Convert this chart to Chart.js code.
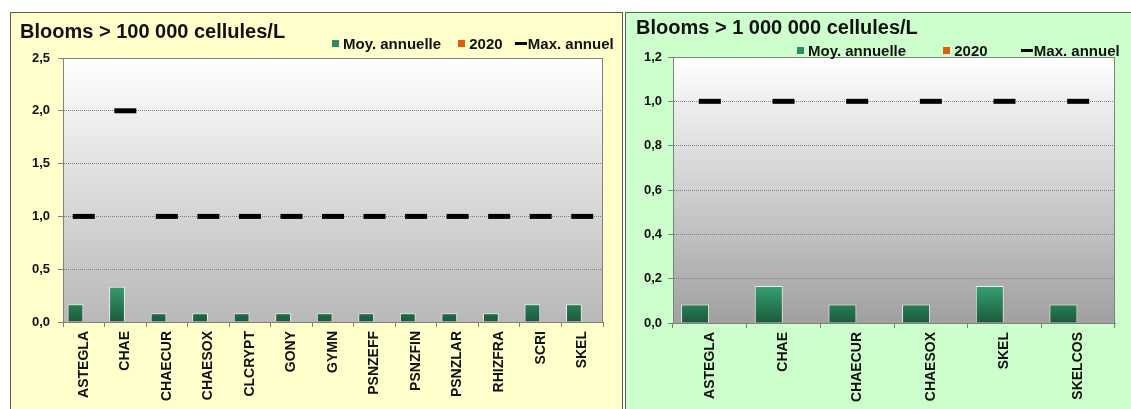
<!DOCTYPE html>
<html>
<head>
<meta charset="utf-8">
<script src="https://cdn.jsdelivr.net/npm/chart.js@4"></script>
<style>
  body { margin: 0; background: #fff; width: 1131px; height: 409px; overflow: hidden; position: relative; font-family: "Liberation Sans", Arial, sans-serif; }
  .panel { position: absolute; top: 12px; height: 410px; box-sizing: border-box; }
  #left { left: 10px; width: 613px; background: #ffffcc; border: 1px solid #5e5e48; }
  #right { left: 625px; width: 510px; background: #ccffcc; border: 1px solid #4e6e4e; }
  .panel canvas { position: absolute; left: 0; top: 0; }
  .title { position: absolute; font-weight: bold; font-size: 20px; line-height: 20px; color: #111; white-space: nowrap; }
  .legend { position: absolute; font-weight: bold; font-size: 15px; line-height: 15px; color: #111; white-space: nowrap; }
  .legend span { display: inline-block; vertical-align: middle; }
  .sq { width: 7px; height: 7px; margin-right: 4px; }
  .dash { width: 12px; height: 3px; background: #000; margin-right: 1px; }
</style>
</head>
<body>
<div class="panel" id="left">
  <canvas id="chart1" width="611" height="396"></canvas>
  <div class="title" style="left:9px; top:8px;">Blooms &gt; 100 000 cellules/L</div>
  <div class="legend" style="left:321px; top:21px;">
    <span class="sq" style="background:#2e8b63"></span><span>Moy. annuelle</span>
    <span class="sq" style="background:#e05a10; margin-left:13px"></span><span>2020</span>
    <span class="dash" style="margin-left:8px"></span><span>Max. annuel</span>
  </div>
</div>
<div class="panel" id="right">
  <canvas id="chart2" width="505" height="396"></canvas>
  <div class="title" style="left:10px; top:4px;">Blooms &gt; 1 000 000 cellules/L</div>
  <div class="legend" style="left:171px; top:28px;">
    <span class="sq" style="background:#2e8b63"></span><span>Moy. annuelle</span>
    <span class="sq" style="background:#e05a10; margin-left:33px"></span><span>2020</span>
    <span class="dash" style="margin-left:29px"></span><span>Max. annuel</span>
  </div>
</div>
<script>
// ### data ###
const categories100k = ["ASTEGLA", "CHAE", "CHAECUR", "CHAESOX", "CLCRYPT", "GONY", "GYMN", "PSNZEFF", "PSNZFIN", "PSNZLAR", "RHIZFRA", "SCRI", "SKEL"];
const moy100k = [0.167, 0.333, 0.083, 0.083, 0.083, 0.083, 0.083, 0.083, 0.083, 0.083, 0.083, 0.167, 0.167];
const y2020_100k = [null, null, null, null, null, null, null, null, null, null, null, null, null];
const max100k = [1, 2, 1, 1, 1, 1, 1, 1, 1, 1, 1, 1, 1];
const ticks100k = [0, 0.5, 1.0, 1.5, 2.0, 2.5];

const categories1M = ["ASTEGLA", "CHAE", "CHAECUR", "CHAESOX", "SKEL", "SKELCOS"];
const moy1M = [0.083, 0.167, 0.083, 0.083, 0.167, 0.083];
const y2020_1M = [null, null, null, null, null, null];
const max1M = [1, 1, 1, 1, 1, 1];
const ticks1M = [0, 0.2, 0.4, 0.6, 0.8, 1.0, 1.2];

// ### colors ###
const GREEN_TOP = "#35a373";
const GREEN_BOTTOM = "#1b5a3c";
const ORANGE = "#e05a10";
const GRID = "#808080";
const FONT = "'Liberation Sans', Arial, sans-serif";

// plot area background + frame
const plotBackground = {
  id: "plotBackground",
  beforeDraw(chart, args, opts) {
    const { ctx, chartArea } = chart;
    const g = ctx.createLinearGradient(0, chartArea.top, 0, chartArea.bottom);
    g.addColorStop(0, "#ffffff");
    g.addColorStop(1, opts.bottom);
    ctx.save();
    ctx.fillStyle = g;
    ctx.fillRect(chartArea.left, chartArea.top, chartArea.right - chartArea.left, chartArea.bottom - chartArea.top);
    ctx.restore();
  },
  afterDraw(chart) {
    const { ctx, chartArea } = chart;
    ctx.save();
    ctx.strokeStyle = GRID;
    ctx.lineWidth = 1;
    ctx.beginPath();
    ctx.moveTo(chartArea.left, chartArea.top + 0.5);
    ctx.lineTo(chartArea.right - 0.5, chartArea.top + 0.5);
    ctx.lineTo(chartArea.right - 0.5, chartArea.bottom);
    ctx.stroke();
    ctx.restore();
  },
};

function barGradient(context) {
  const { ctx, chartArea } = context.chart;
  if (!chartArea) return GREEN_TOP;
  const g = ctx.createLinearGradient(0, chartArea.bottom, 0, chartArea.bottom - 38);
  g.addColorStop(0, GREEN_BOTTOM);
  g.addColorStop(1, GREEN_TOP);
  return g;
}

function fmt(v) {
  return v.toFixed(1).replace(".", ",");
}

function renderChart(canvasId, labels, moy, y2020, max, tickValues, cfg) {
  const yMax = tickValues[tickValues.length - 1];
  return new Chart(document.getElementById(canvasId), {
    type: "bar",
    data: {
      labels: labels,
      datasets: [
        {
          label: "Max. annuel",
          type: "line",
          data: max,
          showLine: false,
          pointStyle: "line",
          pointRadius: 11,
          pointHoverRadius: 11,
          pointBorderWidth: 5,
          pointBorderColor: "#000",
          pointBackgroundColor: "#000",
          order: 0,
        },
        {
          label: "Moy. annuelle",
          data: moy,
          backgroundColor: barGradient,
          borderColor: "#ececec",
          borderWidth: 1,
          categoryPercentage: 0.8,
          barPercentage: 0.95,
          order: 1,
        },
        {
          label: "2020",
          data: y2020,
          backgroundColor: ORANGE,
          categoryPercentage: 0.8,
          barPercentage: 0.95,
          order: 1,
        },
      ],
    },
    options: {
      responsive: false,
      animation: false,
      events: [],
      layout: { padding: { top: cfg.top, right: cfg.right, left: 0, bottom: 0 } },
      plugins: {
        legend: { display: false },
        tooltip: { enabled: false },
        plotBackground: { bottom: cfg.bottomColor },
      },
      scales: {
        x: {
          offset: true,
          afterFit: (scale) => { scale.height = cfg.xHeight; },
          grid: { offset: true, drawOnChartArea: false, drawTicks: true, tickLength: 5, color: GRID },
          border: { color: GRID, width: 1 },
          ticks: {
            autoSkip: false,
            maxRotation: 90,
            minRotation: 90,
            padding: 4,
            color: "#111",
            font: { family: FONT, size: 14, weight: "bold" },
          },
        },
        y: {
          min: 0,
          max: yMax,
          afterFit: (scale) => { scale.width = cfg.yWidth; },
          afterBuildTicks: (scale) => { scale.ticks = tickValues.map((v) => ({ value: v })); },
          grid: { color: GRID, tickLength: 5, tickColor: GRID },
          border: { color: GRID, width: 1, dash: [1, 1] },
          ticks: {
            padding: cfg.tickPad,
            color: "#111",
            font: { family: FONT, size: 13, weight: "bold" },
            callback: (v) => fmt(v),
          },
        },
      },
    },
    plugins: [plotBackground],
  });
}

renderChart("chart1", categories100k, moy100k, y2020_100k, max100k, ticks100k,
  { top: 45, right: 19, xHeight: 87, yWidth: 52, tickPad: 8, bottomColor: "#b8b8b8" });
renderChart("chart2", categories1M, moy1M, y2020_1M, max1M, ticks1M,
  { top: 44, right: 3, xHeight: 86, yWidth: 47, tickPad: 6, bottomColor: "#a0a0a0" });
</script>
</body>
</html>
